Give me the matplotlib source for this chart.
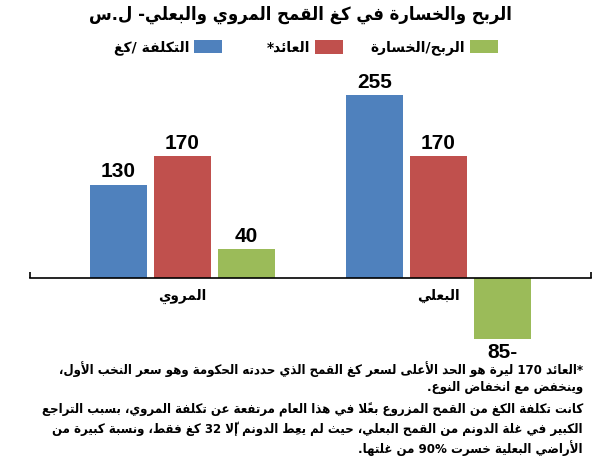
import matplotlib
matplotlib.use("Agg")
import matplotlib.pyplot as plt
from matplotlib.patches import Patch
import numpy as np

# ---------------- data ----------------
categories = ["المروي", "البعلي"]
series_names = ["التكلفة /كغ", "العائد*", "الربح/الخسارة"]
cost = [130, 255]
revenue = [170, 170]
profit = [40, -85]
colors = ["#4F81BD", "#C0504D", "#9BBB59"]
title = "الربح والخسارة في كغ القمح المروي والبعلي- ل.س"
notes = [
    "*العائد 170 ليرة هو الحد الأعلى لسعر كغ القمح الذي حددته الحكومة وهو سعر النخب الأول،",
    "وينخفض مع انخفاض النوع.",
    "كانت تكلفة الكغ من القمح المزروع بعلاً في هذا العام مرتفعة عن تكلفة المروي، بسبب التراجع",
    "الكبير في غلة الدونم من القمح البعلي، حيث لم يعطِ الدونم إلّا 32 كغ فقط، ونسبة كبيرة من",
    "الأراضي البعلية خسرت 90% من غلتها.",
]

# ------------- minimal Arabic shaping + bidi -------------
FORMS = {}
def _four(c, b):
    FORMS[c] = (b, b + 1, b + 2, b + 3)
def _two(c, b):
    FORMS[c] = (b, b + 1, None, None)

for c, b in [('\u0622', 0xFE81), ('\u0623', 0xFE83), ('\u0624', 0xFE85), ('\u0625', 0xFE87),
             ('\u0627', 0xFE8D), ('\u0629', 0xFE93), ('\u062F', 0xFEA9), ('\u0630', 0xFEAB),
             ('\u0631', 0xFEAD), ('\u0632', 0xFEAF), ('\u0648', 0xFEED), ('\u0649', 0xFEEF)]:
    _two(c, b)
for c, b in [('\u0626', 0xFE89), ('\u0628', 0xFE8F), ('\u062A', 0xFE95), ('\u062B', 0xFE99),
             ('\u062C', 0xFE9D), ('\u062D', 0xFEA1), ('\u062E', 0xFEA5), ('\u0633', 0xFEB1),
             ('\u0634', 0xFEB5), ('\u0635', 0xFEB9), ('\u0636', 0xFEBD), ('\u0637', 0xFEC1),
             ('\u0638', 0xFEC5), ('\u0639', 0xFEC9), ('\u063A', 0xFECD), ('\u0641', 0xFED1),
             ('\u0642', 0xFED5), ('\u0643', 0xFED9), ('\u0644', 0xFEDD), ('\u0645', 0xFEE1),
             ('\u0646', 0xFEE5), ('\u0647', 0xFEE9), ('\u064A', 0xFEF1)]:
    _four(c, b)
LAMALEF = {'\u0622': 0xFEF5, '\u0623': 0xFEF7, '\u0625': 0xFEF9, '\u0627': 0xFEFB}


def _is_mark(c):
    return '\u064B' <= c <= '\u0652' or c == '\u0670'


def _clusters(text):
    cl = []
    for ch in text:
        if _is_mark(ch) and cl:
            cl[-1][1] += ch
        else:
            cl.append([ch, ""])
    return cl


def _shape(text):
    cl = _clusters(text)
    res = []
    prev_dual = False
    k = 0
    while k < len(cl):
        b, m = cl[k]
        nb = cl[k + 1][0] if k + 1 < len(cl) else None
        if b == '\u0644' and nb in LAMALEF:
            base = LAMALEF[nb]
            res.append([chr(base + 1) if prev_dual else chr(base), m + cl[k + 1][1], False])
            prev_dual = False
            k += 2
            continue
        if b in FORMS:
            f = FORMS[b]
            jp = prev_dual
            jn = f[2] is not None and nb is not None and nb in FORMS
            if jp and jn:
                ch = f[3]
            elif jp:
                ch = f[1]
            elif jn:
                ch = f[2]
            else:
                ch = f[0]
            res.append([chr(ch), m, False])
            prev_dual = f[2] is not None
        else:
            res.append([b, m, False])
            prev_dual = False
        k += 1
    for i, c in enumerate(res):
        b = c[0]
        if b.isascii() and b.isalnum():
            c[2] = True
        elif b == '%' and i > 0 and res[i - 1][2]:
            c[2] = True
    return res


def ar(text):
    res = _shape(text)
    runs = []
    for c in res:
        if runs and runs[-1][0] == c[2]:
            runs[-1][1].append(c)
        else:
            runs.append([c[2], [c]])
    out = ""
    for ltr, cs in reversed(runs):
        seq = cs if ltr else list(reversed(cs))
        out += "".join(b + m for b, m, _ in seq)
    return out


# ---------------- figure ----------------
W, H = 593, 465
fig = plt.figure(figsize=(W / 100, H / 100), dpi=100)
fig.patch.set_facecolor("white")

ARFONT = ["DejaVu Sans"]
NUMFONT = ["Liberation Sans Narrow", "Liberation Sans", "DejaVu Sans"]

ax_left, ax_right, ax_top, ax_bot = 30, 591, 60, 360
ax = fig.add_axes([ax_left / W, 1 - ax_bot / H, (ax_right - ax_left) / W, (ax_bot - ax_top) / H])

x = np.arange(len(categories))
bw = 0.2245
step = 0.25
all_series = [cost, revenue, profit]
for i, (vals, col) in enumerate(zip(all_series, colors)):
    b = ax.bar(x + (i - 1) * step, vals, width=bw, color=col, zorder=2)
    for rect, v in zip(b, vals):
        cx = rect.get_x() + rect.get_width() / 2
        lab = str(v) if v >= 0 else f"{abs(v)}-"
        if v >= 0:
            ax.annotate(lab, (cx, v), xytext=(0, 2.5), textcoords="offset points",
                        ha="center", va="bottom", fontsize=15, fontweight="bold",
                        family=NUMFONT, fontstretch="condensed")
        else:
            ax.annotate(lab, (cx, v), xytext=(0, -3.0), textcoords="offset points",
                        ha="center", va="top", fontsize=15, fontweight="bold",
                        family=NUMFONT, fontstretch="condensed")

ax.set_xlim(-0.596, 1.596)
ax.set_ylim(-114.3, 303.8)
for s in ["top", "right", "left"]:
    ax.spines[s].set_visible(False)
ax.spines["bottom"].set_position(("data", 0))
ax.spines["bottom"].set_linewidth(1.2)
ax.spines["bottom"].set_zorder(3)
ax.set_yticks([])
ax.set_xticks(x)
ax.set_xticklabels([ar(c) for c in categories], fontsize=9.8, fontweight="bold", family=ARFONT)
ax.tick_params(axis="x", which="major", length=0, pad=8)
ax.set_xticks([-0.596, 1.596], minor=True)
ax.tick_params(axis="x", which="minor", direction="in", length=4.5, width=1.2)
ax.set_facecolor("none")

# title
t_title = fig.text(300 / W, 1 - 15 / H, ar(title), ha="center", va="center",
                   fontsize=15, fontweight="bold", family=ARFONT, fontstretch="condensed")

# legend (one entry per series, RTL: patch to the right of the text)
legend_right_px = [222, 343, 498]
for name, col, xr in zip(series_names, colors, legend_right_px):
    fig.legend(handles=[Patch(facecolor=col)], labels=[ar(name)],
               loc="center right", bbox_to_anchor=(xr / W, 1 - 47.5 / H),
               markerfirst=False, frameon=False, borderpad=0, borderaxespad=0,
               handlelength=2.0, handleheight=1.1, handletextpad=0.35,
               prop={"family": ARFONT, "weight": "bold", "size": 10})

# notes
note_y = [369, 387, 410, 429, 448]
note_texts = []
for line, yy in zip(notes, note_y):
    note_texts.append(fig.text(583 / W, 1 - yy / H, ar(line), ha="right", va="center",
                               fontsize=10, fontweight="bold", family=ARFONT,
                               fontstretch="condensed"))

# fit text sizes to the reference widths
fig.canvas.draw()
r = fig.canvas.get_renderer()
w_title = t_title.get_window_extent(r).width
t_title.set_fontsize(15 * 426.0 / w_title)
w_note = note_texts[0].get_window_extent(r).width
for t in note_texts:
    t.set_fontsize(10 * 526.0 / w_note)

fig.savefig("out.png", dpi=100, facecolor="white")
